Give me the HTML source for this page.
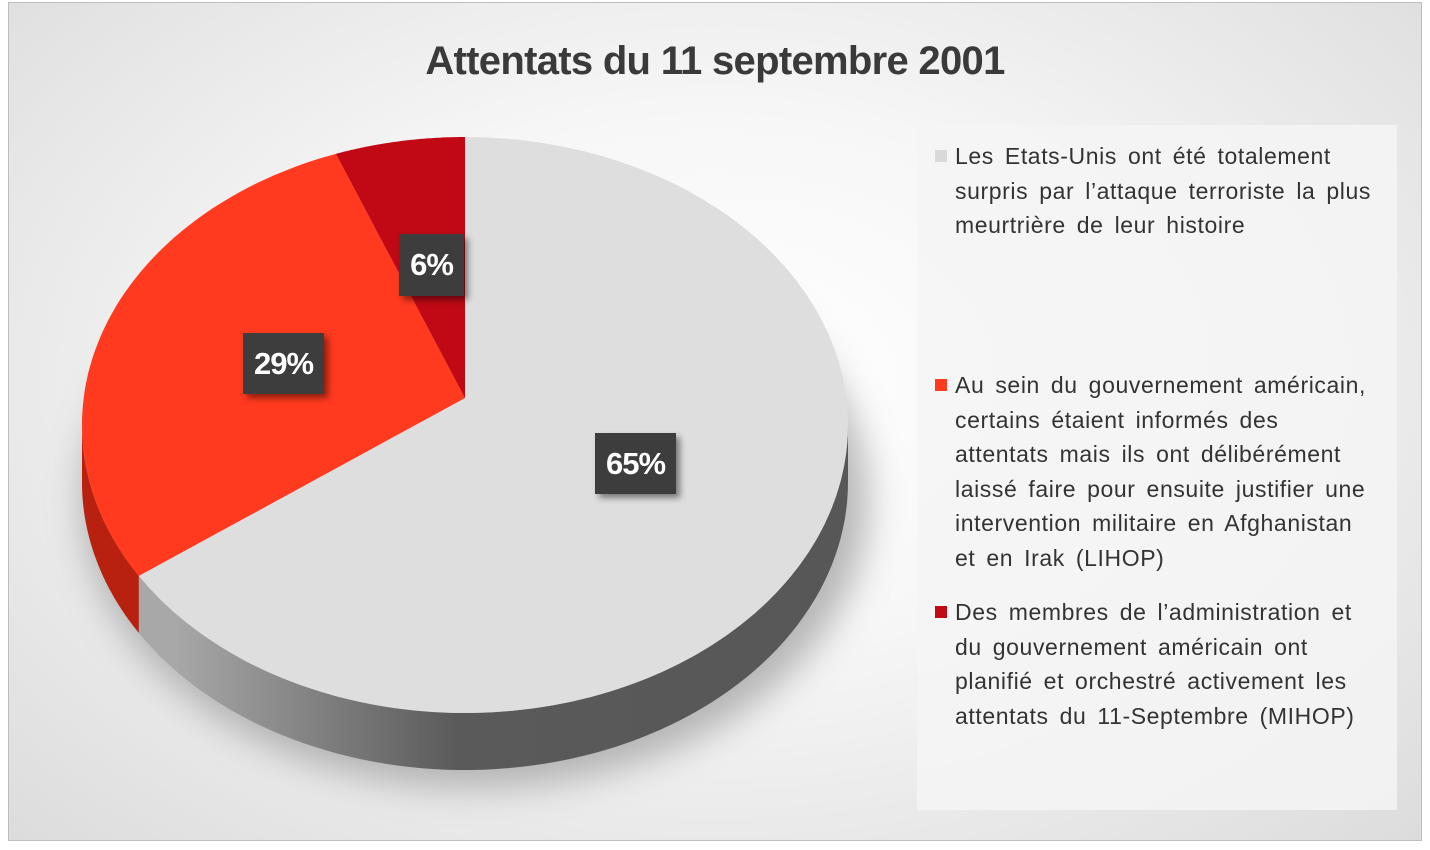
<!DOCTYPE html>
<html><head><meta charset="utf-8"><style>
html,body{margin:0;padding:0;background:#fff;}
#c{position:absolute;left:8px;top:2px;width:1412px;height:837px;border:1px solid #bdbdbd;
background:radial-gradient(ellipse at 50% 45%,#ffffff 0%,#f7f7f7 40%,#dcdcdc 100%);overflow:hidden;}
.t{position:absolute;left:0;width:1412px;top:36px;text-align:center;font:bold 40px "Liberation Sans",sans-serif;color:#3a3a3a;letter-spacing:-0.7px;}
.lg{position:absolute;left:908px;top:122px;width:480px;height:685px;background:rgba(245,245,245,0.85);}
.it{position:absolute;left:38px;font:23px "Liberation Sans",sans-serif;color:#333;line-height:34.5px;letter-spacing:0.6px;word-spacing:4px;white-space:nowrap;}
.mk{position:absolute;left:-20px;top:11px;width:12px;height:12px;}
.lb{position:absolute;background:#3d3d3d;color:#fff;font:bold 31px "Liberation Sans",sans-serif;text-align:center;box-shadow:4px 4px 6px rgba(0,0,0,0.45);letter-spacing:-1px;}
</style></head><body>
<div id="c">
<div class="t">Attentats du 11 septembre 2001</div>
<svg id="s" width="1412" height="837" style="position:absolute;left:0;top:0">
<defs>
<linearGradient id="sg" x1="0" x2="1" y1="0" y2="0">
<stop offset="0.05" stop-color="#a8a8a8"/><stop offset="0.45" stop-color="#5a5a5a"/><stop offset="1" stop-color="#575757"/></linearGradient>
<filter id="bl"><feGaussianBlur stdDeviation="18"/></filter>
</defs>
</svg>
<div class="lg">
<div class="it" style="top:14px"><div class="mk" style="background:#d9d9d9"></div>Les Etats-Unis ont été totalement<br>surpris par l’attaque terroriste la plus<br>meurtrière de leur histoire</div>
<div class="it" style="top:243px"><div class="mk" style="background:#ff3b1f"></div>Au sein du gouvernement américain,<br>certains étaient informés des<br>attentats mais ils ont délibérément<br>laissé faire pour ensuite justifier une<br>intervention militaire en Afghanistan<br>et en Irak (LIHOP)</div>
<div class="it" style="top:470px"><div class="mk" style="background:#c00a14"></div>Des membres de l’administration et<br>du gouvernement américain ont<br>planifié et orchestré activement les<br>attentats du 11-Septembre (MIHOP)</div>
</div>
<div class="lb" style="left:390px;top:231px;width:65px;height:62px;line-height:62px">6%</div>
<div class="lb" style="left:234px;top:330px;width:81px;height:61px;line-height:61px">29%</div>
<div class="lb" style="left:586px;top:430px;width:81px;height:61px;line-height:61px">65%</div>
</div>
<script>
var s=document.getElementById('s'),ns='http://www.w3.org/2000/svg';
var cx=456,cy=422,rx=383,ry=288,ax=456,ay=395,D=57;
function P(t,dy){t=t*Math.PI/180;return (cx+rx*Math.sin(t)).toFixed(1)+','+(cy-ry*Math.cos(t)+(dy||0)).toFixed(1);}
function arc(a,b,dy){var r=[],n=80;for(var i=0;i<=n;i++)r.push(P(a+(b-a)*i/n,dy));return r;}
function add(d,f){var p=document.createElementNS(ns,'path');p.setAttribute('d',d);p.setAttribute('fill',f);s.appendChild(p);}
var e=document.createElementNS(ns,'ellipse');e.setAttribute('cx',cx+10);e.setAttribute('cy',cy+75);e.setAttribute('rx',rx+10);e.setAttribute('ry',ry);e.setAttribute('fill','#9a9a9a');e.setAttribute('filter','url(#bl)');e.setAttribute('opacity','0.7');s.appendChild(e);
function side(a,b,f){var top=arc(a,b,0),bot=arc(b,a,D);add('M'+top.join(' L')+' L'+bot.join(' L')+'Z',f);}
side(90,238.4,'url(#sg)');
side(238.4,270,'#b8200f');
function slice(a,b,f){add('M'+ax+','+ay+' L'+arc(a,b,0).join(' L')+'Z',f);}
slice(0,238.4,'#dedede');
slice(238.4,340.3,'#ff3a1f');
slice(340.3,360,'#c00914');
</script>
</body></html>
